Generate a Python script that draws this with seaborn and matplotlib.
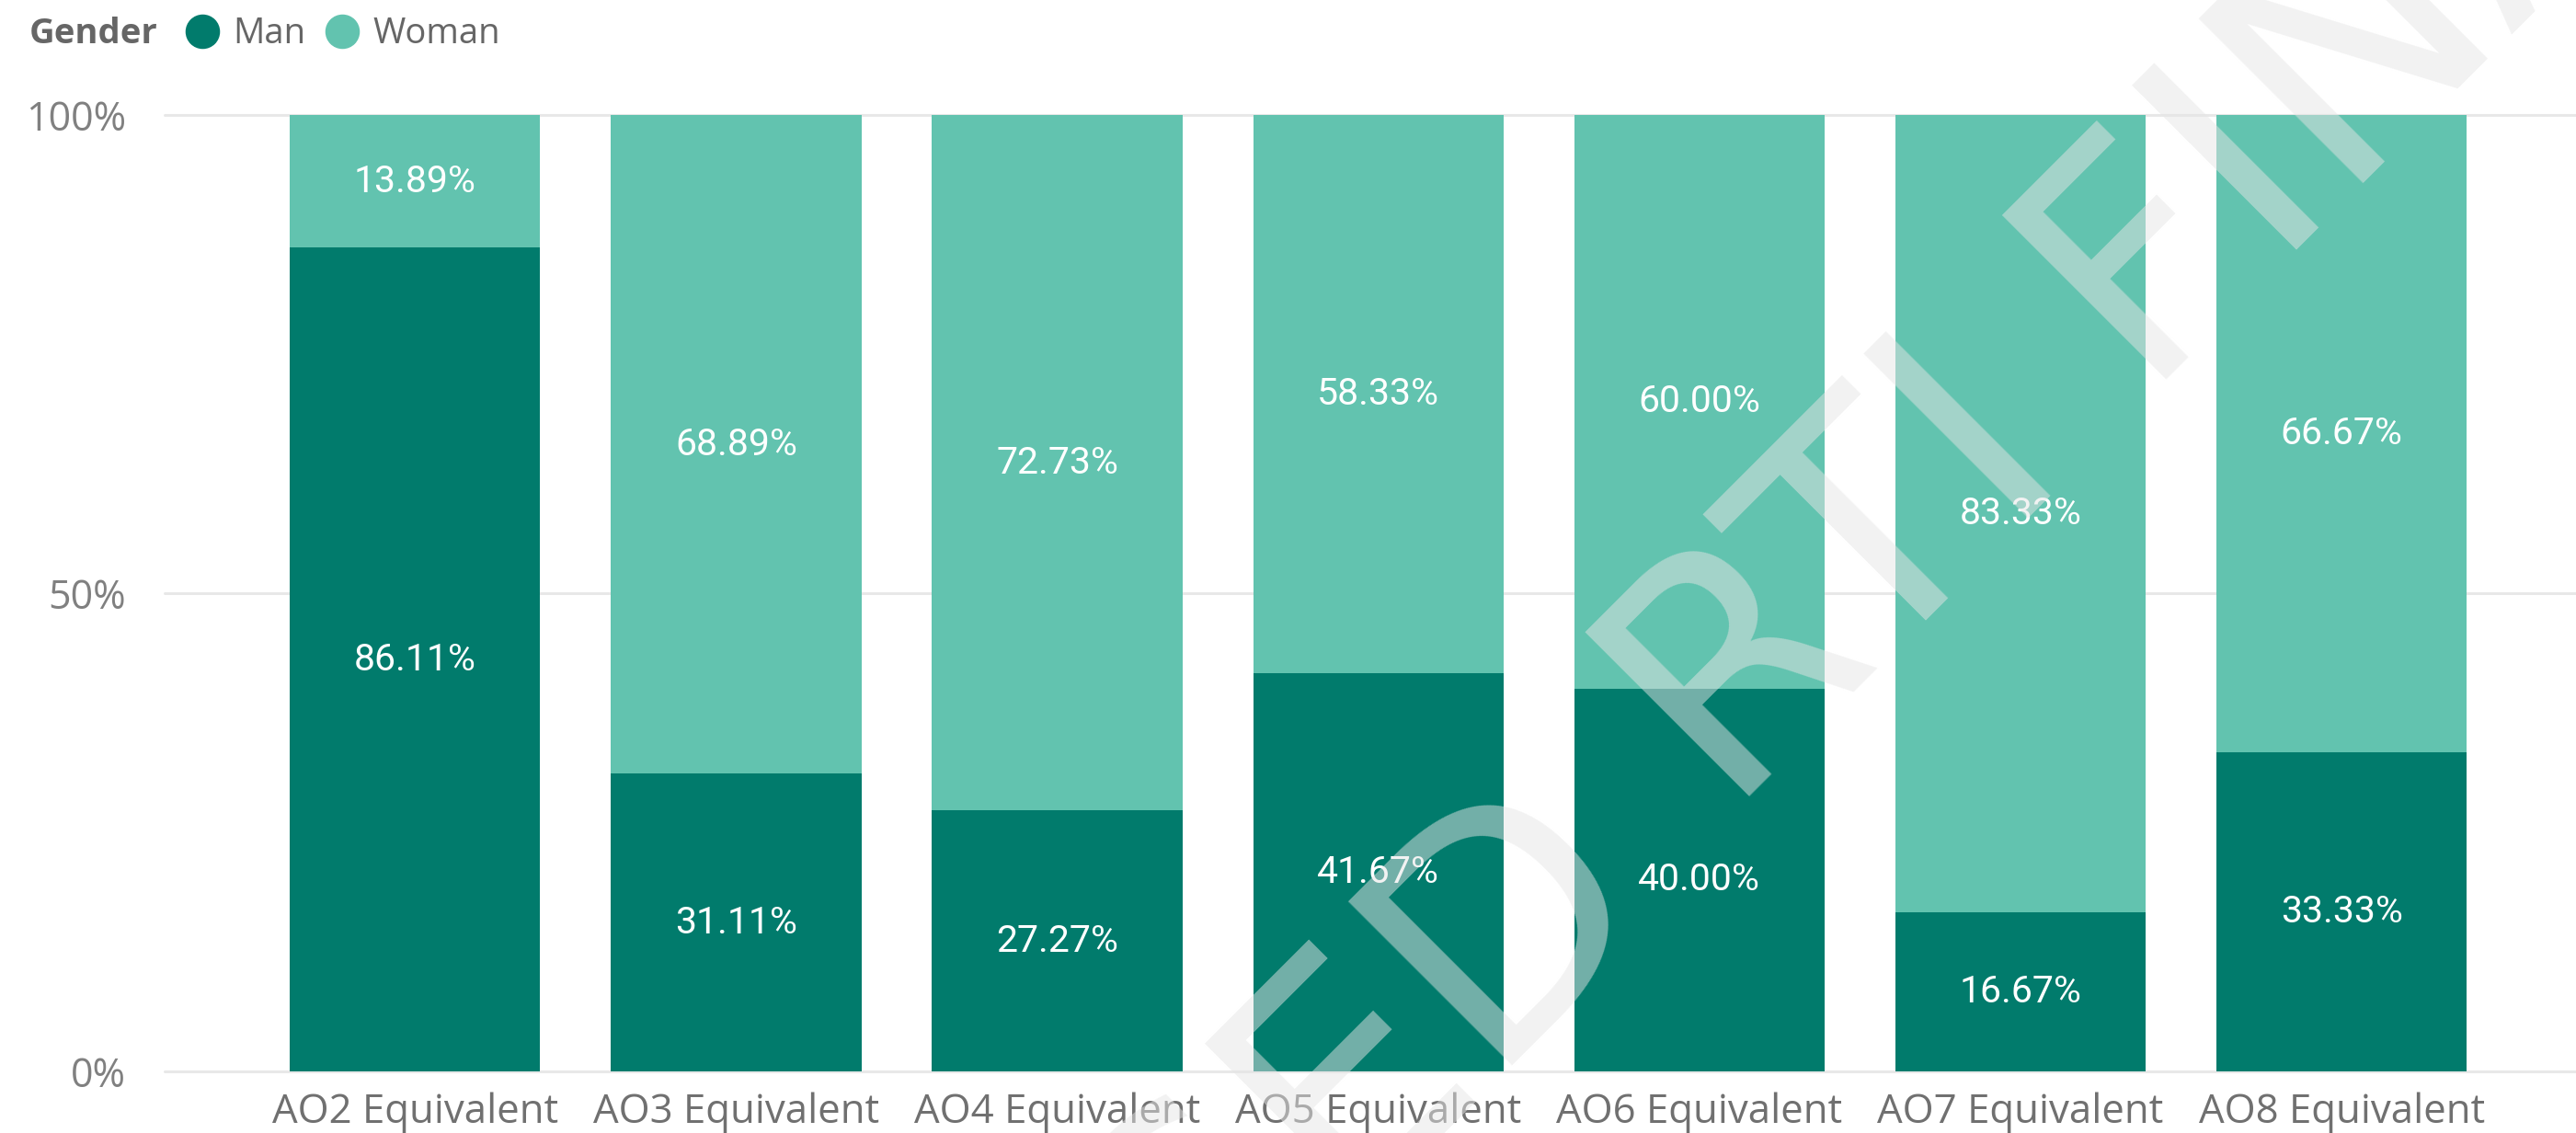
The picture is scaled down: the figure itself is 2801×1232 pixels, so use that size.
import matplotlib
matplotlib.use("Agg")
import matplotlib.pyplot as plt
from matplotlib.lines import Line2D
import pandas as pd
import seaborn as sns

# Gender split per grade band (percent of headcount)
categories = ["AO2 Equivalent", "AO3 Equivalent", "AO4 Equivalent", "AO5 Equivalent",
              "AO6 Equivalent", "AO7 Equivalent", "AO8 Equivalent"]
man_pct = [86.11, 31.11, 27.27, 41.67, 40.00, 16.67, 33.33]
woman_pct = [13.89, 68.89, 72.73, 58.33, 60.00, 83.33, 66.67]
series_names = ["Man", "Woman"]
legend_title = "Gender"
y_ticks = [0, 50, 100]
y_tick_labels = ["0%", "50%", "100%"]
watermark_words = ["RELEASED", "RTI FINAL"]

MAN_COLOR = "#017B6C"
WOMAN_COLOR = "#62C3AF"
GRID_COLOR = "#E8E8E8"

W, H = 2801, 1232

sns.set_theme(style="white")
plt.rcParams["font.family"] = ["Open Sans", "DejaVu Sans"]

df = pd.DataFrame({"category": categories, "Man": man_pct, "Woman": woman_pct})
df["stack_top"] = df["Man"] + df["Woman"]

fig = plt.figure(figsize=(W / 100, H / 100), dpi=100)
ax = fig.add_axes([179 / W, 67 / H, 1 - 179 / W, (1165 - 125) / H])

# Stacked bars: full stack (woman on top of man) first, then the man segment over it
sns.barplot(data=df, x="category", y="stack_top", color=WOMAN_COLOR, width=0.78,
            saturation=1, errorbar=None, edgecolor="none", linewidth=0, ax=ax, zorder=2)
sns.barplot(data=df, x="category", y="Man", color=MAN_COLOR, width=0.78,
            saturation=1, errorbar=None, edgecolor="none", linewidth=0, ax=ax, zorder=3)

label_font = ["Roboto", "DejaVu Sans"]
for i, (m, w) in enumerate(zip(man_pct, woman_pct)):
    ax.text(i, m / 2, f"{m:.2f}%", ha="center", va="center", color="white",
            fontsize=29.5, family=label_font, zorder=5)
    ax.text(i, m + w / 2, f"{w:.2f}%", ha="center", va="center", color="white",
            fontsize=29.5, family=label_font, zorder=5)

ax.set_xlim(-0.78, len(categories) - 0.27)
ax.set_ylim(0, 100)
ax.set_yticks(y_ticks)
ax.set_yticklabels(y_tick_labels)
ax.set_xlabel("")
ax.set_ylabel("")
for s in ax.spines.values():
    s.set_visible(False)
ax.yaxis.grid(True, color=GRID_COLOR, linewidth=2.2)
ax.xaxis.grid(False)
ax.set_axisbelow(True)
for gl in ax.get_ygridlines():
    gl.set_clip_on(False)
ax.tick_params(axis="y", length=0, pad=30, labelsize=31, labelcolor="#808080")
ax.tick_params(axis="x", length=0, pad=16, labelsize=31.5, labelcolor="#707070")

# Legend row: bold title followed by round swatches
legend_y = 1 - 37 / H
fig.text(32 / W, legend_y, legend_title, fontsize=27.5, fontweight="bold",
         color="#666666", ha="left", va="center")
handles = [Line2D([], [], marker="o", linestyle="", markersize=26,
                  markerfacecolor=c, markeredgecolor=c) for c in (MAN_COLOR, WOMAN_COLOR)]
leg = fig.legend(handles, series_names, loc="center left",
                 bbox_to_anchor=(201 / W, legend_y), ncol=2, frameon=False,
                 fontsize=27.5, handlelength=1.0, handletextpad=0.36,
                 columnspacing=0.55, borderpad=0, borderaxespad=0)
for t in leg.get_texts():
    t.set_color("#666666")

# Diagonal watermark across the plot, written as two words meeting on one baseline
wm_size = 250
wm_em = wm_size * 100 / 72
ux, uy = 0.7071, -0.7071          # baseline direction in pixels (y down)
second_x, second_y = 1879, 890    # baseline start of the second word (pixels from top-left)
gap = 0.32 * wm_em
first_x, first_y = second_x - ux * gap, second_y - uy * gap
wm_style = dict(fontsize=wm_size, family=["DejaVu Sans"], color="#E5E5E5", alpha=0.5,
                rotation=45, rotation_mode="anchor", va="baseline", zorder=10)
fig.text(second_x / W, 1 - second_y / H, watermark_words[1], ha="left", **wm_style)
fig.text(first_x / W, 1 - first_y / H, watermark_words[0], ha="right", **wm_style)

fig.savefig("out.png", dpi=100)
